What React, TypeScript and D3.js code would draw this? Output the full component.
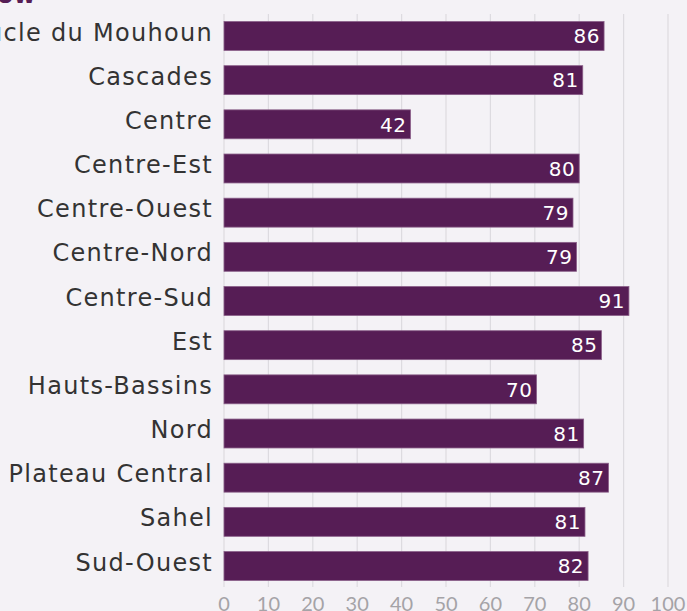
import React from "react";
import * as d3 from "d3";

const categories = [
  "Boucle du Mouhoun",
  "Cascades",
  "Centre",
  "Centre-Est",
  "Centre-Ouest",
  "Centre-Nord",
  "Centre-Sud",
  "Est",
  "Hauts-Bassins",
  "Nord",
  "Plateau Central",
  "Sahel",
  "Sud-Ouest",
];
const values = [85.6, 80.8, 42.0, 80.0, 78.6, 79.4, 91.2, 85.0, 70.4, 81.0, 86.6, 81.3, 82.0];
const tickValues = [0, 10, 20, 30, 40, 50, 60, 70, 80, 90, 100];

const W = 687;
const H = 611;

export default function App() {
  const x = d3.scaleLinear().domain([0, 100]).range([224, 668]);
  const y = d3.scaleBand<string>().domain(categories).range([14, 588]).paddingInner(0.345).paddingOuter(0.17);
  const purple = "#561d55";
  return (
    <svg
      width={W}
      height={H}
      style={{ position: "absolute", left: 0, top: 0, background: "#f4f2f6" }}
    >
      <rect x={0} y={0} width={W} height={H} fill="#f4f2f6" />
      <text x={-3} y={3} fontFamily="DejaVu Sans" fontWeight="bold" fontSize={24} fill={purple}>
        ow
      </text>
      {tickValues.map((t) => (
        <g key={t}>
          <line x1={x(t)} x2={x(t)} y1={14} y2={587} stroke="#dddbe0" strokeWidth={1.2} />
          <text
            x={x(t)}
            y={611}
            textAnchor="middle"
            fontFamily="Lato"
            fontSize={20}
            fill="#a5a3a7"
          >
            {t}
          </text>
        </g>
      ))}
      {categories.map((c, i) => {
        const yy = y(c)!;
        const bw = y.bandwidth();
        return (
          <g key={c}>
            <rect
              x={x(0)}
              y={yy}
              width={x(values[i]) - x(0)}
              height={bw}
              fill={purple}
              stroke="#8a5f89"
              strokeWidth={0.8}
            />
            <text
              x={x(values[i]) - 4}
              y={yy + bw / 2}
              dy="0.36em"
              textAnchor="end"
              fontFamily="DejaVu Sans"
              fontSize={20}
              letterSpacing={0.5}
              fill="#ffffff"
            >
              {Math.round(values[i])}
            </text>
            <text
              x={213}
              y={yy + bw / 2 - 4}
              dy="0.36em"
              textAnchor="end"
              fontFamily="DejaVu Sans"
              fontSize={24}
              letterSpacing={1.3}
              fill="#333333"
            >
              {c}
            </text>
          </g>
        );
      })}
    </svg>
  );
}
